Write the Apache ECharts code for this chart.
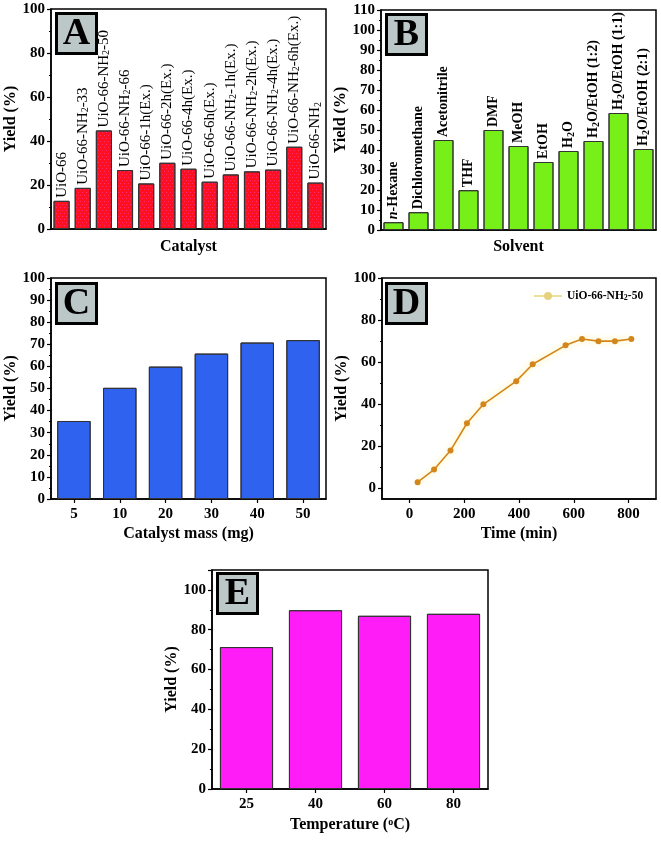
<!DOCTYPE html>
<html>
<head>
<meta charset="utf-8">
<script src="https://cdn.jsdelivr.net/npm/echarts@6/dist/echarts.min.js"></script>
<style>html,body{margin:0;padding:0;background:#fff}#c{width:661px;height:842px}</style>
</head>
<body>
<div id="c"></div>
<script>
// ---- data ----
const catsA = ['UiO-66','UiO-66-NH2-33','UiO-66-NH2-50','UiO-66-NH2-66','UiO-66-1h(Ex.)','UiO-66-2h(Ex.)','UiO-66-4h(Ex.)','UiO-66-6h(Ex.)','UiO-66-NH2-1h(Ex.)','UiO-66-NH2-2h(Ex.)','UiO-66-NH2-4h(Ex.)','UiO-66-NH2-6h(Ex.)','UiO-66-NH2'];
const valsA = [12.8, 18.7, 44.8, 26.8, 20.7, 30.1, 27.4, 21.5, 24.8, 26.2, 27.0, 37.4, 21.1];
const catsB = ['n-Hexane','Dichloromethane','Acetonitrile','THF','DMF','MeOH','EtOH','H2O','H2O/EtOH (1:2)','H2O/EtOH (1:1)','H2O/EtOH (2:1)'];
const valsB = [3.9, 8.9, 45.0, 19.9, 50.0, 42.0, 34.0, 39.5, 44.5, 58.5, 40.5];
const catsC = ['5','10','20','30','40','50'];
const valsC = [35.3, 50.3, 59.9, 65.8, 70.8, 71.9];
const timeD = [30, 90, 150, 210, 270, 390, 450, 570, 630, 690, 750, 810];
const yieldD = [3, 9, 18, 31, 40, 51, 59, 68, 71, 70, 70, 71];
const catsE = ['25','40','60','80'];
const valsE = [71.3, 89.8, 87.0, 88.0];
const ticksDX = [0, 200, 400, 600, 800];
const ticksDY = [0, 20, 40, 60, 80, 100];
const minorDY = [10, 30, 50, 70, 90];

const FONT = "'Liberation Serif','Times New Roman',serif";
const chart = echarts.init(document.getElementById('c'));

function fmtChem(s){
  return s.replace(/^n-/, '{i|n}-').replace(/H2/g, 'H{s|2}');
}
const grids = [
  {left:51, top:9, width:275, height:220},
  {left:381, top:10, width:275, height:220},
  {left:51, top:278, width:275, height:221},
  {left:382, top:278, width:274, height:221},
  {left:212, top:570, width:276, height:219}
].map(g => Object.assign({show:true, borderColor:'#000', borderWidth:1.5}, g));

const axisLabelStyle = {color:'#000', fontFamily:FONT, fontWeight:'bold', fontSize:15};
const nameStyle = {color:'#000', fontFamily:FONT, fontWeight:'bold', fontSize:16};

function yAx(gi, max, interval, extra){
  return Object.assign({
    type:'value', gridIndex:gi, min:0, max:max, interval:interval,
    name:'Yield (%)', nameLocation:'middle', nameGap:31, nameTextStyle:nameStyle,
    axisLine:{show:true, lineStyle:{color:'#000', width:1.5}},
    axisTick:{show:true, inside:false, length:4, lineStyle:{color:'#000', width:1.2}},
    minorTick:{show:true, splitNumber:2, length:2, lineStyle:{color:'#000', width:1}},
    splitLine:{show:false},
    axisLabel:Object.assign({margin:6}, axisLabelStyle)
  }, extra||{});
}
function xCat(gi, data, name, gap, showLabels){
  return {
    type:'category', gridIndex:gi, data:data,
    name:name, nameLocation:'middle', nameGap:gap,
    nameTextStyle:Object.assign({rich:{sup:{fontSize:10, fontFamily:FONT, fontWeight:'bold', verticalAlign:'top', padding:[0,0,6,0]}}}, nameStyle),
    axisLine:{show:true, lineStyle:{color:'#000', width:1.5}},
    axisTick:{show:showLabels, alignWithLabel:true, length:4, lineStyle:{color:'#000', width:1.2}},
    axisLabel:Object.assign({show:showLabels, margin:8}, axisLabelStyle),
    splitLine:{show:false}
  };
}

const xAxis = [
  xCat(0, catsA, 'Catalyst', 10, false),
  xCat(1, catsB, 'Solvent', 9, false),
  xCat(2, catsC, 'Catalyst mass (mg)', 27, true),
  {
    type:'value', gridIndex:3, min:-100, max:900,
    name:'Time (min)', nameLocation:'middle', nameGap:27, nameTextStyle:nameStyle,
    axisLine:{show:true, onZero:false, lineStyle:{color:'#000', width:1.5}},
    axisTick:{show:true, length:4, customValues:ticksDX, lineStyle:{color:'#000', width:1.2}},
    axisLabel:Object.assign({margin:8, customValues:ticksDX}, axisLabelStyle),
    splitLine:{show:false}
  },
  xCat(4, catsE, 'Temperature ({sup|o}C)', 28, true)
];
const yAxis = [
  yAx(0, 100, 20),
  yAx(1, 110, 10, {nameGap:28}),
  yAx(2, 100, 10, {nameGap:29}),
  {
    type:'value', gridIndex:3, min:-5, max:100, position:'left',
    name:'Yield (%)', nameLocation:'middle', nameGap:30, nameTextStyle:nameStyle,
    axisLine:{show:true, onZero:false, lineStyle:{color:'#000', width:1.5}},
    axisTick:{show:true, length:4, customValues:ticksDY, lineStyle:{color:'#000', width:1.2}},
    axisLabel:Object.assign({margin:6, customValues:ticksDY}, axisLabelStyle),
    splitLine:{show:false}
  },
  yAx(4, 110, 20, {nameGap:29, axisLabel:Object.assign({margin:6, showMaxLabel:false}, axisLabelStyle)}),
  {
    type:'value', gridIndex:3, min:-5, max:100, position:'left', offset:0,
    axisLine:{show:false, onZero:false},
    axisTick:{show:true, length:2, customValues:minorDY, lineStyle:{color:'#000', width:1}},
    axisLabel:{show:false}, splitLine:{show:false}
  }
];

const barBorder = {borderColor:'#333', borderWidth:1};
const noDecal = {symbol:'none'};
const series = [
  {
    type:'bar', xAxisIndex:0, yAxisIndex:0, data:valsA, barWidth:'76%',
    itemStyle:Object.assign({color:'#ff1020', decal:{symbol:'circle', symbolSize:0.8, color:'rgba(235,90,255,0.85)', dashArrayX:[[1,3],[0,2,1,1]], dashArrayY:[1,2], rotation:0}}, barBorder),
    label:{show:true, position:'top', distance:3, rotate:90, align:'left', verticalAlign:'middle',
      formatter:p => fmtChem(catsA[p.dataIndex]),
      color:'#000', fontFamily:FONT, fontSize:15, fontWeight:'normal',
      rich:{s:{fontSize:10, fontFamily:FONT, verticalAlign:'bottom', padding:[5,0,0,0]}}}
  },
  {
    type:'bar', xAxisIndex:1, yAxisIndex:1, data:valsB, barWidth:'80%',
    itemStyle:Object.assign({color:'#77f01a', decal:noDecal}, barBorder),
    label:{show:true, position:'top', distance:3, rotate:90, align:'left', verticalAlign:'middle',
      formatter:p => fmtChem(catsB[p.dataIndex]),
      color:'#000', fontFamily:FONT, fontSize:14, fontWeight:'bold',
      rich:{s:{fontSize:10, fontFamily:FONT, fontWeight:'bold', verticalAlign:'bottom', padding:[5,0,0,0]},
            i:{fontSize:14, fontFamily:FONT, fontWeight:'bold', fontStyle:'italic'}}}
  },
  {
    type:'bar', xAxisIndex:2, yAxisIndex:2, data:valsC, barWidth:'73%',
    itemStyle:Object.assign({color:'#2f62ee', decal:noDecal}, barBorder)
  },
  {
    type:'line', name:'UiO-66-NH2-50', xAxisIndex:3, yAxisIndex:3,
    data:timeD.map((t,i)=>[t, yieldD[i]]),
    symbol:'circle', symbolSize:6,
    itemStyle:{color:'#d3861c', decal:noDecal},
    lineStyle:{color:'#d3861c', width:1.6, shadowColor:'rgba(255,235,120,0.95)', shadowBlur:6}
  },
  {
    type:'bar', xAxisIndex:4, yAxisIndex:4, data:valsE, barWidth:'77%',
    itemStyle:Object.assign({color:'#ff1cf6', decal:noDecal}, barBorder)
  }
];

const boxes = [['A',55,12],['B',385,13],['C',55,282],['D',385,282],['E',216,572]];
const graphic = boxes.map(([t,x,y]) => ({
  type:'group', left:x, top:y, z:100,
  children:[
    {type:'rect', shape:{x:0,y:0,width:40,height:40}, style:{fill:'#bcc7c8', stroke:'#000', lineWidth:3}},
    {type:'text', x:20, y:21, style:{text:t, fontFamily:FONT, fontWeight:'bold', fontSize:38, fill:'#000', align:'center', verticalAlign:'middle'}}
  ]
}));

chart.setOption({
  animation:false,
  aria:{enabled:true, decal:{show:true}},
  grid:grids, xAxis:xAxis, yAxis:yAxis, series:series, graphic:graphic,
  legend:{
    show:true, left:528, top:285, itemWidth:28, itemHeight:10, itemGap:3, z:50,
    data:['UiO-66-NH2-50'],
    itemStyle:{color:'#e6d27a'}, lineStyle:{color:'#ecdf96', width:2},
    formatter:() => 'UiO-66-NH{s|2}-50',
    textStyle:{color:'#000', fontFamily:FONT, fontWeight:'bold', fontSize:11.5,
      rich:{s:{fontSize:8, fontFamily:FONT, fontWeight:'bold', verticalAlign:'bottom', padding:[4,0,0,0]}}}
  }
});
</script>
</body>
</html>
